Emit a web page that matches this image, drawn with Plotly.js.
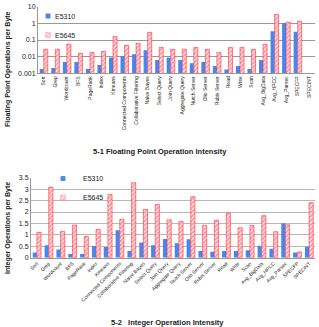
<!DOCTYPE html>
<html>
<head>
<meta charset="utf-8">
<script src="https://cdn.plot.ly/plotly-3.0.1.min.js"></script>
<style>html,body{margin:0;padding:0;background:#fff;}#chart{width:319px;height:327px;}</style>
</head>
<body>
<div id="chart"></div>
<script>
const categories = ["Sort","Grep","Wordcount","BFS","PageRank","Index","Kmeans","Connected Components","Collaborative Filtering","Naive Bayes","Select Query","Join Query","Aggregate Query","Nutch Server","Olio Server","Rubis Server","Read","Write","Scan","Avg_BigData","Avg_HPCC","Avg_Parsec","SPECFP","SPECINT"];
const fpE5310 = [0.0018,0.0021,0.0048,0.0048,0.0018,0.0031,0.009,0.011,0.014,0.024,0.0063,0.009,0.0063,0.004,0.0048,0.0027,0.0017,0.0027,0.0018,0.0063,0.34,1.07,0.31,null];
const fpE5645 = [0.028,0.028,0.057,0.016,0.018,0.021,0.16,0.048,0.063,0.29,0.036,0.0275,0.028,0.036,0.0275,0.018,0.036,0.036,0.0275,0.055,3.4,1.18,1.35,null];
const intE5310 = [0.23,0.54,0.36,0.16,0.16,0.51,0.47,1.2,0.29,0.67,0.55,0.82,0.63,0.81,0.29,0.26,0.29,0.29,0.33,0.52,0.39,1.51,0.23,0.48];
const intE5645 = [1.11,3.09,1.15,1.43,0.93,1.24,2.77,1.68,3.28,2.11,2.33,1.66,1.59,2.67,1.41,1.64,1.95,1.31,1.41,1.84,1.14,1.44,0.25,2.41];
const fpTickVals = [0.001,0.01,0.1,1,10];
const fpTickText = ["0.001","0.01","0.1","1","10"];
const intTickVals = [0,0.5,1,1.5,2,2.5,3,3.5];
const intTickText = ["0","0.5","1","1.5","2","2.5","3","3.5"];

const blue = "#4287f2";
const red = "#ff2a3a";
const font = "Liberation Sans, Arial, sans-serif";

function blueBar(x, y, xa, ya, leg) {
  return {type:"bar", name:"E5310", x:x, y:y, xaxis:xa, yaxis:ya, legend:leg,
    marker:{color:blue, line:{width:0}}};
}
function redBar(x, y, xa, ya, leg) {
  return {type:"bar", name:"E5645", x:x, y:y, xaxis:xa, yaxis:ya, legend:leg,
    marker:{color:"#ffffff", line:{width:0.6, color:red},
      pattern:{shape:"/", fgcolor:red, bgcolor:"#ffffff", size:3, solidity:0.65, fillmode:"overlay"}}};
}

const data = [
  blueBar(categories, fpE5310, "x", "y", "legend"),
  redBar(categories, fpE5645, "x", "y", "legend"),
  blueBar(categories, intE5310, "x2", "y2", "legend2"),
  redBar(categories, intE5645, "x2", "y2", "legend2")
];

const H = 327, W = 319;
const layout = {
  width: W, height: H,
  margin:{l:0,r:0,t:0,b:0},
  paper_bgcolor:"#fff", plot_bgcolor:"#fff",
  font:{family:font, size:6, color:"#222"},
  barmode:"group", bargap:0.3, bargroupgap:0,
  xaxis:{domain:[38/W, 315/W], anchor:"y", tickangle:-90, tickfont:{size:5},
    showline:true, linecolor:"#999", linewidth:1, ticks:"", fixedrange:true},
  yaxis:{domain:[1-73.3/H, 1-6.7/H], anchor:"x", type:"log", range:[-3,1.002],
    tickvals:fpTickVals, ticktext:fpTickText, tickfont:{size:7},
    showgrid:true, gridcolor:"#999999", gridwidth:1, showline:true, linecolor:"#999", ticks:"", zeroline:false},
  xaxis2:{domain:[31/W, 315/W], anchor:"y2", tickangle:-45, tickfont:{size:5},
    showline:true, linecolor:"#999", linewidth:1, ticks:""},
  yaxis2:{domain:[1-257.7/H, 1-177.7/H], anchor:"x2", range:[0,3.502],
    tickvals:intTickVals, ticktext:intTickText, tickfont:{size:7},
    showgrid:true, gridcolor:"#b8b8b8", gridwidth:1, showline:true, linecolor:"#999", ticks:"", zeroline:false},
  legend:{x:28/W, y:1-1.5/H, xanchor:"left", yanchor:"top", bgcolor:"rgba(0,0,0,0)",
    font:{size:7}, itemwidth:30},
  legend2:{x:43/W, y:1-164/H, xanchor:"left", yanchor:"top", bgcolor:"rgba(0,0,0,0)",
    font:{size:7}, itemwidth:30},
  showlegend:true,
  annotations:[
    {text:"<b>Floating Point Operations per Byte</b>", xref:"paper", yref:"paper",
     x:8/W, y:1-69/H, textangle:-90, showarrow:false, font:{size:7, color:"#222"}, xanchor:"center", yanchor:"middle"},
    {text:"<b>Integer Operations per Byte</b>", xref:"paper", yref:"paper",
     x:8/W, y:1-228/H, textangle:-90, showarrow:false, font:{size:7, color:"#222"}, xanchor:"center", yanchor:"middle"},
    {text:"<b>5-1 Floating Point Operation Intensity</b>", xref:"paper", yref:"paper",
     x:160/W, y:1-152/H, showarrow:false, font:{size:7.5, color:"#222"}, xanchor:"center", yanchor:"middle"},
    {text:"<b>5-2   Integer Operation Intensity</b>", xref:"paper", yref:"paper",
     x:167/W, y:1-322/H, showarrow:false, font:{size:7.5, color:"#222"}, xanchor:"center", yanchor:"middle"}
  ]
};

Plotly.newPlot("chart", data, layout, {staticPlot:true, displayModeBar:false}).then(function(gd){
  // shrink the legend swatches to the small squares of the original
  gd.querySelectorAll(".legendpoints path").forEach(function(p){
    p.setAttribute("transform", (p.getAttribute("transform")||"") + " scale(0.4)");
  });
  gd.querySelectorAll(".legendtext").forEach(function(t){
    t.setAttribute("x", "27");
  });
});
</script>
</body>
</html>
